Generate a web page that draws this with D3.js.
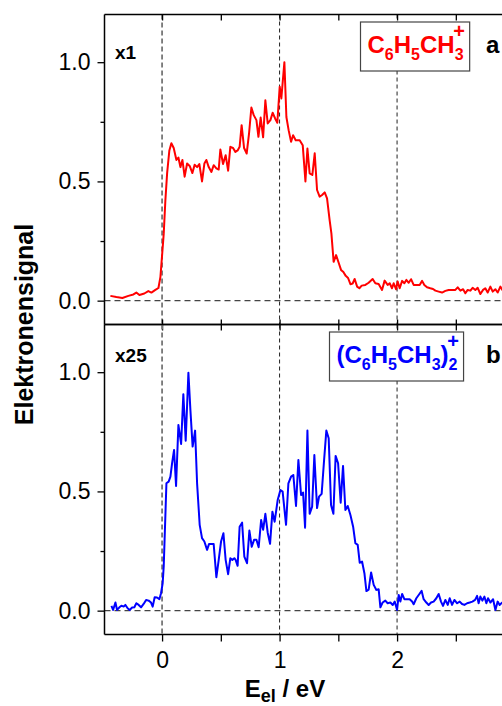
<!DOCTYPE html>
<html>
<head>
<meta charset="utf-8">
<script src="https://cdn.jsdelivr.net/npm/d3@7"></script>
<style>
body { margin: 0; background: #fff; }
svg { display: block; font-family: "Liberation Sans", Arial, sans-serif; }
</style>
</head>
<body>
<div id="chart"></div>
<script>
// [energy in eV, normalised electron signal]
const seriesA = [[-0.44,0.02],[-0.389,0.015],[-0.338,0.011],[-0.287,0.02],[-0.244,0.026],[-0.219,0.034],[-0.193,0.024],[-0.151,0.03],[-0.117,0.04],[-0.091,0.034],[-0.057,0.045],[-0.031,0.053],[-0.014,0.1],[0.014,0.28],[0.028,0.42],[0.043,0.535],[0.062,0.63],[0.079,0.66],[0.099,0.64],[0.122,0.59],[0.139,0.6],[0.156,0.56],[0.173,0.59],[0.192,0.52],[0.213,0.575],[0.235,0.565],[0.258,0.535],[0.277,0.57],[0.298,0.56],[0.317,0.573],[0.34,0.5],[0.36,0.575],[0.377,0.59],[0.397,0.56],[0.42,0.54],[0.439,0.568],[0.462,0.555],[0.482,0.55],[0.496,0.634],[0.519,0.573],[0.541,0.61],[0.562,0.545],[0.581,0.645],[0.604,0.64],[0.624,0.624],[0.643,0.63],[0.66,0.645],[0.677,0.736],[0.698,0.64],[0.72,0.617],[0.74,0.7],[0.76,0.81],[0.78,0.778],[0.803,0.757],[0.82,0.687],[0.839,0.768],[0.86,0.685],[0.879,0.84],[0.899,0.743],[0.922,0.757],[0.941,0.788],[0.962,0.764],[0.981,0.746],[1.001,0.897],[1.015,0.848],[1.041,1.0],[1.058,0.77],[1.077,0.715],[1.098,0.666],[1.115,0.694],[1.137,0.673],[1.171,0.673],[1.197,0.652],[1.22,0.5],[1.237,0.638],[1.256,0.534],[1.279,0.527],[1.299,0.618],[1.319,0.464],[1.341,0.436],[1.362,0.443],[1.384,0.454],[1.404,0.429],[1.426,0.338],[1.441,0.282],[1.46,0.163],[1.481,0.191],[1.5,0.163],[1.523,0.129],[1.543,0.12],[1.563,0.104],[1.583,0.095],[1.603,0.069],[1.622,0.072],[1.639,0.091],[1.66,0.059],[1.679,0.052],[1.699,0.063],[1.73,0.066],[1.758,0.075],[1.792,0.091],[1.815,0.073],[1.843,0.07],[1.872,0.045],[1.894,0.084],[1.92,0.066],[1.937,0.073],[1.957,0.052],[1.971,0.073],[1.991,0.048],[2.005,0.08],[2.022,0.052],[2.043,0.083],[2.062,0.073],[2.079,0.087],[2.099,0.075],[2.119,0.09],[2.141,0.066],[2.17,0.066],[2.192,0.066],[2.213,0.083],[2.232,0.066],[2.255,0.056],[2.283,0.052],[2.306,0.049],[2.326,0.042],[2.354,0.038],[2.383,0.034],[2.411,0.041],[2.439,0.045],[2.468,0.045],[2.496,0.045],[2.516,0.056],[2.539,0.042],[2.562,0.048],[2.581,0.031],[2.601,0.045],[2.624,0.042],[2.643,0.054],[2.666,0.045],[2.686,0.054],[2.709,0.028],[2.732,0.045],[2.751,0.052],[2.771,0.034],[2.794,0.059],[2.814,0.038],[2.837,0.048],[2.856,0.034],[2.879,0.059],[2.896,0.045],[2.92,0.05]];

const seriesB = [[-0.431,0.02],[-0.417,0.003],[-0.397,0.034],[-0.383,0.003],[-0.363,0.014],[-0.346,0.021],[-0.327,0.017],[-0.312,0.024],[-0.293,0.01],[-0.276,0.003],[-0.255,0.013],[-0.236,0.014],[-0.219,0.031],[-0.199,0.024],[-0.179,0.014],[-0.157,0.028],[-0.136,0.045],[-0.114,0.042],[-0.094,0.034],[-0.08,0.017],[-0.063,0.056],[-0.043,0.055],[-0.023,0.048],[-0.009,0.073],[0.005,0.115],[0.014,0.185],[0.037,0.534],[0.056,0.541],[0.071,0.562],[0.085,0.618],[0.102,0.674],[0.119,0.523],[0.139,0.779],[0.162,0.699],[0.181,0.908],[0.201,0.713],[0.224,0.998],[0.241,0.842],[0.26,0.688],[0.281,0.755],[0.298,0.534],[0.32,0.36],[0.34,0.304],[0.36,0.29],[0.383,0.255],[0.4,0.28],[0.42,0.28],[0.439,0.28],[0.462,0.14],[0.482,0.213],[0.502,0.29],[0.522,0.325],[0.541,0.213],[0.562,0.153],[0.581,0.22],[0.598,0.213],[0.615,0.22],[0.626,0.213],[0.643,0.188],[0.66,0.352],[0.681,0.369],[0.7,0.227],[0.723,0.199],[0.743,0.336],[0.763,0.268],[0.783,0.297],[0.803,0.297],[0.822,0.266],[0.843,0.38],[0.86,0.339],[0.879,0.406],[0.899,0.327],[0.919,0.28],[0.939,0.415],[0.958,0.373],[0.984,0.464],[1.007,0.506],[1.026,0.499],[1.055,0.36],[1.075,0.534],[1.098,0.562],[1.117,0.569],[1.14,0.439],[1.16,0.632],[1.183,0.485],[1.2,0.495],[1.217,0.348],[1.237,0.755],[1.256,0.406],[1.277,0.436],[1.296,0.653],[1.319,0.43],[1.336,0.478],[1.358,0.49],[1.379,0.632],[1.398,0.755],[1.418,0.723],[1.438,0.443],[1.458,0.406],[1.477,0.649],[1.498,0.618],[1.52,0.453],[1.54,0.607],[1.56,0.422],[1.58,0.439],[1.603,0.401],[1.626,0.352],[1.645,0.283],[1.665,0.276],[1.682,0.201],[1.702,0.206],[1.722,0.157],[1.739,0.082],[1.758,0.088],[1.779,0.16],[1.801,0.108],[1.824,0.087],[1.843,0.09],[1.858,0.014],[1.877,0.034],[1.9,0.042],[1.92,0.031],[1.943,0.034],[1.963,0.024],[1.98,0.038],[2.0,0.003],[2.014,0.066],[2.028,0.038],[2.043,0.07],[2.062,0.048],[2.085,0.048],[2.107,0.048],[2.128,0.038],[2.141,0.027],[2.164,0.052],[2.19,0.07],[2.209,0.083],[2.226,0.048],[2.249,0.034],[2.269,0.024],[2.289,0.034],[2.311,0.038],[2.334,0.052],[2.354,0.07],[2.374,0.038],[2.391,0.02],[2.411,0.045],[2.431,0.024],[2.448,0.052],[2.468,0.024],[2.488,0.045],[2.511,0.031],[2.533,0.038],[2.553,0.028],[2.573,0.024],[2.596,0.031],[2.618,0.034],[2.641,0.038],[2.664,0.045],[2.681,0.062],[2.694,0.031],[2.709,0.059],[2.726,0.042],[2.743,0.059],[2.76,0.031],[2.774,0.052],[2.794,0.034],[2.817,0.048],[2.837,0.003],[2.856,0.038],[2.873,0.024],[2.888,0.031],[2.91,0.04]];

const yTicks = [0, 0.5, 1.0];
const yMinorTicks = [0.25, 0.75];
const xTicks = [0, 1, 2];
const xMinorTicks = [0.5, 1.5, 2.5];
const guideEnergies = [0, 1, 2];
const panelLetters = ["a", "b"];
const scaleFactors = ["x1", "x25"];
// formula pieces: [text, isSubscript]
const formulaA = [["C", 0], ["6", 1], ["H", 0], ["5", 1], ["CH", 0], ["3", 1]];
const formulaB = [["(C", 0], ["6", 1], ["H", 0], ["5", 1], ["CH", 0], ["3", 1], [")", 0], ["2", 1]];

const width = 502, height = 706;
const left = 104.5, panelTop = 14.5, panelH = 310;
const FONT = 23;

const panels = [
	{ data: seriesA, color: "#ff0000", formula: formulaA, textX: 367.5, factorY: 44.5 },
	{ data: seriesB, color: "#0000ff", formula: formulaB, textX: 336.5, factorY: 37.5 },
];

let svg = d3.select("#chart").append("svg")
	.attr("width", width)
	.attr("height", height);

let x = d3.scaleLinear().domain([-0.49, 3.0]).range([left, left + 3.49 * 117.5]);

function styleAxis(g) {
	g.select(".domain").remove();
	g.selectAll(".tick line").attr("stroke", "#000").attr("stroke-width", 1.3);
	g.selectAll("text").attr("font-size", FONT).attr("fill", "#000")
		.attr("font-family", "Liberation Sans, Arial, sans-serif");
}

panels.forEach(function (p, i) {
	const top = panelTop + i * panelH;
	const y = d3.scaleLinear().domain([-0.1, 1.2]).range([top + panelH, top]);
	const g = svg.append("g");

	g.append("clipPath").attr("id", "clip" + i)
		.append("rect").attr("x", left).attr("y", top).attr("width", width - left).attr("height", panelH);

	// dashed guides
	g.selectAll("line.guide")
		.data(guideEnergies)
		.join("line")
		.attr("class", "guide")
		.attr("x1", d => x(d)).attr("x2", d => x(d))
		.attr("y1", top).attr("y2", top + panelH)
		.attr("stroke", d => d === 0 ? "#777" : "#222")
		.attr("stroke-width", d => d === 0 ? 1.8 : 1)
		.attr("stroke-dasharray", d => d === 0 ? "5,3" : "4,3");

	g.append("line")
		.attr("x1", left).attr("x2", width)
		.attr("y1", y(0)).attr("y2", y(0))
		.attr("stroke", "#444")
		.attr("stroke-width", 1.2)
		.attr("stroke-dasharray", "6,4");

	let line = d3.line().x(d => x(d[0])).y(d => y(d[1]));
	g.append("path")
		.datum(p.data)
		.attr("clip-path", "url(#clip" + i + ")")
		.attr("d", line)
		.attr("fill", "none")
		.attr("stroke", p.color)
		.attr("stroke-width", 2)
		.attr("stroke-linejoin", "round");

	// y axis, major + minor
	g.append("g").attr("transform", "translate(" + left + ",0)")
		.call(d3.axisLeft(y).tickValues(yTicks).tickFormat(d3.format(".1f")).tickSize(7).tickPadding(7))
		.call(styleAxis);
	g.append("g").attr("transform", "translate(" + left + ",0)")
		.call(d3.axisLeft(y).tickValues(yMinorTicks).tickFormat("").tickSize(4))
		.call(styleAxis);

	// x ticks on top and bottom edges of each panel
	const allX = xTicks.concat(xMinorTicks);
	if (i === 0) {
		g.append("g").attr("transform", "translate(0," + top + ")")
			.call(d3.axisBottom(x).tickValues(allX).tickFormat("").tickSize(6)).call(styleAxis);
		g.append("g").attr("transform", "translate(0," + (top + panelH) + ")")
			.call(d3.axisBottom(x).tickValues(allX).tickFormat("").tickSize(6)).call(styleAxis);
	} else {
		g.append("g").attr("transform", "translate(0," + top + ")")
			.call(d3.axisTop(x).tickValues(allX).tickFormat("").tickSize(5)).call(styleAxis);
		g.append("g").attr("transform", "translate(0," + (top + panelH) + ")")
			.call(d3.axisBottom(x).tickValues(xTicks).tickFormat(d3.format("d")).tickSize(7).tickPadding(10)).call(styleAxis);
		g.append("g").attr("transform", "translate(0," + (top + panelH) + ")")
			.call(d3.axisBottom(x).tickValues(xMinorTicks).tickFormat("").tickSize(7)).call(styleAxis);
	}

	// frame
	g.append("line").attr("x1", left).attr("x2", left).attr("y1", top).attr("y2", top + panelH)
		.attr("stroke", "#000").attr("stroke-width", 1.5);
	g.append("line").attr("x1", left).attr("x2", width).attr("y1", top).attr("y2", top)
		.attr("stroke", "#000").attr("stroke-width", 1.5);
	g.append("line").attr("x1", left).attr("x2", width).attr("y1", top + panelH).attr("y2", top + panelH)
		.attr("stroke", "#000").attr("stroke-width", 1.5);

	// scale factor label
	g.append("text")
		.attr("x", 115).attr("y", top + p.factorY)
		.attr("font-size", 19).attr("font-weight", "bold")
		.text(scaleFactors[i]);

	// formula in a box
	const base = top + 38.5;
	const box = g.append("rect");
	const t = g.append("text")
		.attr("x", p.textX).attr("y", base)
		.attr("fill", p.color).attr("font-weight", "bold").attr("font-size", 24);
	let inSub = false;
	p.formula.forEach(function (part) {
		const sub = part[1] === 1;
		const ts = t.append("tspan").text(part[0]).attr("font-size", sub ? 16 : 24);
		if (sub && !inSub) ts.attr("dy", 7);
		if (!sub && inSub) ts.attr("dy", -7);
		inSub = sub;
	});
	const node = t.node();
	const nChars = p.formula.map(d => d[0]).join("").length;
	const lastStart = node.getStartPositionOfChar(nChars - 1).x;
	const lastW = node.lastChild.getComputedTextLength();
	g.append("text")
		.attr("x", lastStart + lastW / 2).attr("y", base - 15)
		.attr("text-anchor", "middle")
		.attr("fill", p.color).attr("font-weight", "bold").attr("font-size", 20)
		.text("+");
	const bb = node.getBBox();
	box.attr("x", bb.x - 7).attr("y", base - 31)
		.attr("width", bb.width + 13).attr("height", 49)
		.attr("fill", "#fff")
		.attr("stroke", "#444").attr("stroke-width", 1.2);

	g.append("text")
		.attr("x", 486).attr("y", base)
		.attr("font-size", 24).attr("font-weight", "bold")
		.text(panelLetters[i]);
});

// axis titles
svg.append("text")
	.attr("transform", "translate(33," + (panelTop + panelH) + ") rotate(-90)")
	.attr("text-anchor", "middle")
	.attr("font-size", 25).attr("font-weight", "bold")
	.text("Elektronensignal");

const xt = svg.append("text")
	.attr("x", 285).attr("y", 697)
	.attr("text-anchor", "middle")
	.attr("font-size", 24).attr("font-weight", "bold");
xt.append("tspan").text("E");
xt.append("tspan").text("el").attr("font-size", 18).attr("dy", 5);
xt.append("tspan").text(" / eV").attr("dy", -5);
</script>
</body>
</html>
